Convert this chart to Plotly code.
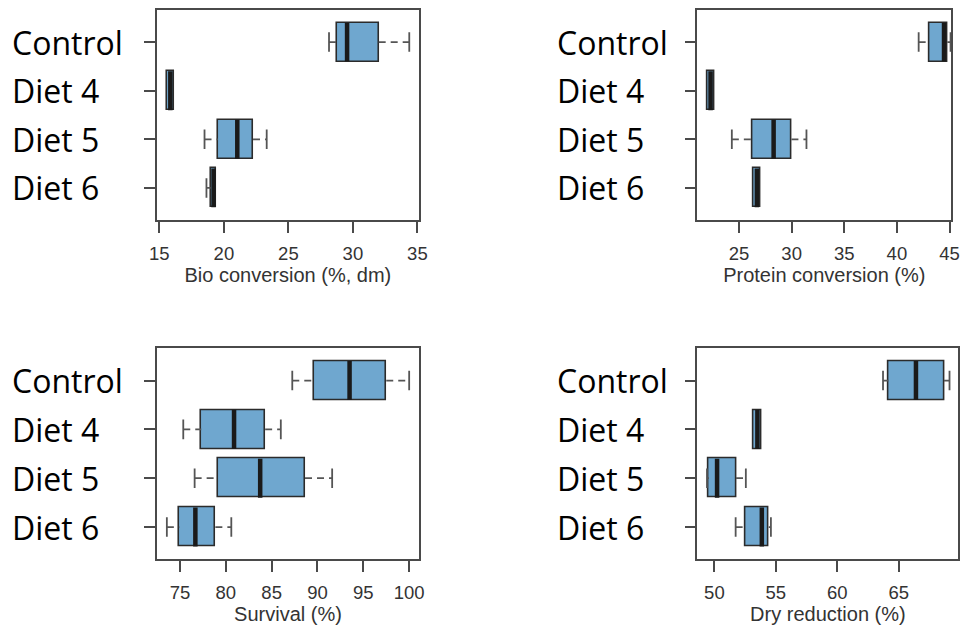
import plotly.graph_objects as go

categories = ["Control", "Diet 4", "Diet 5", "Diet 6"]

# Bio conversion (%, dm): lower whisker, Q1, median, Q3, upper whisker
bio_lo = [28.15, 15.60, 18.50, 18.65]
bio_q1 = [28.80, 15.60, 19.52, 18.98]
bio_med = [29.55, 15.85, 21.04, 19.20]
bio_q3 = [32.00, 16.15, 22.26, 19.38]
bio_hi = [34.37, 16.15, 23.32, 19.38]

# Protein conversion (%)
pro_lo = [42.07, 21.98, 24.32, 26.40]
pro_q1 = [43.07, 21.98, 26.24, 26.40]
pro_med = [44.48, 22.30, 28.29, 26.70]
pro_q3 = [44.79, 22.67, 29.98, 27.05]
pro_hi = [45.10, 22.67, 31.41, 27.05]

# Survival (%)
sur_lo = [87.25, 75.36, 76.60, 73.57]
sur_q1 = [89.57, 77.32, 79.18, 74.93]
sur_med = [93.50, 80.90, 83.75, 76.68]
sur_q3 = [97.50, 84.29, 88.64, 78.86]
sur_hi = [100.0, 86.00, 91.60, 80.60]

# Dry reduction (%)
dry_lo = [63.72, 53.20, 49.40, 51.73]
dry_q1 = [64.15, 53.20, 49.55, 52.56]
dry_med = [66.40, 53.50, 50.22, 53.86]
dry_q3 = [68.68, 53.86, 51.76, 54.42]
dry_hi = [69.13, 53.86, 52.56, 54.60]

panels = [
    dict(lo=bio_lo, q1=bio_q1, med=bio_med, q3=bio_q3, hi=bio_hi,
         title="Bio conversion (%, dm)", ticks=[15, 20, 25, 30, 35], rng=[14.82, 35.1]),
    dict(lo=pro_lo, q1=pro_q1, med=pro_med, q3=pro_q3, hi=pro_hi,
         title="Protein conversion (%)", ticks=[25, 30, 35, 40, 45], rng=[21.05, 45.16]),
    dict(lo=sur_lo, q1=sur_q1, med=sur_med, q3=sur_q3, hi=sur_hi,
         title="Survival (%)", ticks=[75, 80, 85, 90, 95, 100], rng=[72.5, 101.07]),
    dict(lo=dry_lo, q1=dry_q1, med=dry_med, q3=dry_q3, hi=dry_hi,
         title="Dry reduction (%)", ticks=[50, 55, 60, 65], rng=[48.62, 69.85]),
]

W, H = 971, 630
xdoms = [[151.7 / W, 418 / W], [701.7 / W, 960 / W], [151.7 / W, 418.3 / W], [701.7 / W, 967.3 / W]]
ydoms = [[1 - 220 / H, 1 - 10 / H], [1 - 220 / H, 1 - 10 / H],
         [1 - 559.3 / H, 1 - 348.3 / H], [1 - 559.3 / H, 1 - 348.3 / H]]
label_x = [2 / W, 557 / W, 2 / W, 557 / W]

BOX_FILL = "#6fa7cf"
EDGE = "#2b2b2b"
WHISK = "#555555"
FRAME = "#4a4a4a"
BW = 0.8
CAP = 0.2

fig = go.Figure()
layout = dict(
    width=W, height=H, margin=dict(l=0, r=0, t=0, b=0),
    paper_bgcolor="white", plot_bgcolor="white", showlegend=False,
    annotations=[],
)

for k, p in enumerate(panels):
    sfx = "" if k == 0 else str(k + 1)
    xa, ya = "x" + sfx, "y" + sfx
    idx = list(range(len(categories)))
    wx, wy = [], []
    cx, cy = [], []
    mx, my = [], []
    for i in idx:
        wx += [p["lo"][i], p["q1"][i], None, p["q3"][i], p["hi"][i], None]
        wy += [i, i, None, i, i, None]
        if p["lo"][i] < p["q1"][i]:
            cx += [p["lo"][i], p["lo"][i], None]
            cy += [i - CAP, i + CAP, None]
        if p["hi"][i] > p["q3"][i]:
            cx += [p["hi"][i], p["hi"][i], None]
            cy += [i - CAP, i + CAP, None]
        mx += [p["med"][i], p["med"][i], None]
        my += [i - BW / 2, i + BW / 2, None]
    fig.add_trace(go.Scatter(x=wx, y=wy, mode="lines", xaxis=xa, yaxis=ya,
                             line=dict(color=WHISK, width=1.8, dash="7px,5px"), hoverinfo="skip"))
    fig.add_trace(go.Scatter(x=cx, y=cy, mode="lines", xaxis=xa, yaxis=ya,
                             line=dict(color=WHISK, width=1.8), hoverinfo="skip"))
    fig.add_trace(go.Bar(
        y=idx, x=[p["q3"][i] - p["q1"][i] for i in idx], base=p["q1"],
        orientation="h", width=BW, xaxis=xa, yaxis=ya,
        marker=dict(color=BOX_FILL, line=dict(color=EDGE, width=1.6)),
    ))
    fig.add_trace(go.Scatter(x=mx, y=my, mode="lines", xaxis=xa, yaxis=ya,
                             line=dict(color="#1a1a1a", width=4.5), hoverinfo="skip"))

    axis_common = dict(showline=True, mirror=True, linecolor=FRAME, linewidth=1.8,
                       ticks="outside", ticklen=11, tickwidth=1.6, tickcolor=FRAME,
                       showgrid=False, zeroline=False)
    layout["xaxis" + sfx] = dict(
        axis_common, domain=xdoms[k], range=p["rng"], tickvals=p["ticks"],
        anchor=ya, tickfont=dict(family="Liberation Sans, Arial", size=18.5, color="#333333"),
        ticklabelstandoff=5,
        title=dict(text=p["title"], standoff=3,
                   font=dict(family="Liberation Sans, Arial", size=20, color="#333333")),
    )
    layout["yaxis" + sfx] = dict(
        axis_common, domain=ydoms[k], range=[3.66, -0.66], tickvals=idx,
        showticklabels=False, anchor=xa,
    )
    for i, c in enumerate(categories):
        layout["annotations"].append(dict(
            text=c, xref="paper", x=label_x[k], xanchor="left",
            yref=ya, y=i, yanchor="middle", showarrow=False,
            font=dict(family="Open Sans", size=32, color="black"),
        ))

layout["bargap"] = 0
fig.update_layout(**layout)
fig.write_html("out.html")
